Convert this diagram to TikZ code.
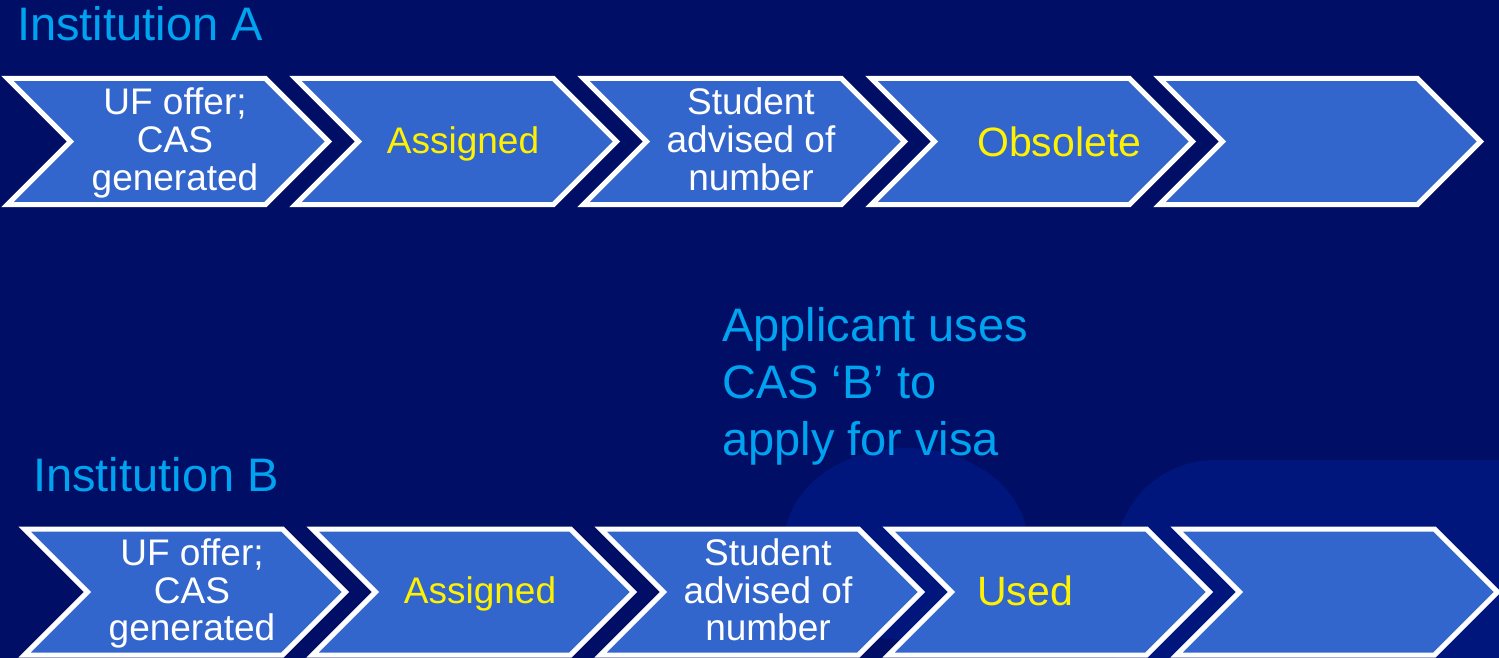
\documentclass[tikz,border=0pt]{standalone}
\usepackage{fontspec}
\setmainfont{Liberation Sans}
\usetikzlibrary{shapes.symbols}
\definecolor{navy}{RGB}{0,14,102}
\definecolor{navylight}{RGB}{0,22,125}
\definecolor{chevblue}{RGB}{51,102,204}
\definecolor{headblue}{RGB}{0,163,240}
\begin{document}
\begin{tikzpicture}[x=1bp,y=-1bp,
		chevron/.style={signal, signal from=west, signal to=east,
			signal pointer angle=90, draw=white, line width=5bp, fill=chevblue,
			minimum width=321bp, minimum height=126bp, inner sep=0pt, outer sep=0pt},
		chevtext/.style={text=white, inner sep=0pt, align=center, anchor=base,
			font=\fontsize{37bp}{37.5bp}\selectfont},
		heading/.style={text=headblue, inner sep=0pt, align=left,
			font=\fontsize{47bp}{57bp}\selectfont},
		status/.style={text=yellow, inner sep=0pt, anchor=west,
			font=\fontsize{41bp}{41bp}\selectfont}]
		\useasboundingbox (0,0) rectangle (1499,658);
		\clip (0,0) rectangle (1499,658);
		\fill[navy] (0,0) rectangle (1499,658);
		% faint shapes of the slide background
		\fill[navylight] (906,544) ellipse [x radius=122, y radius=96];
		\fill[navylight, rounded corners=100bp] (1115,460) rectangle (1600,800);

		% Institution A
		\node[heading, anchor=base west] (insta) at (17,41) {Institution A};
		\node[chevron] (aoffer) at (168,141.5) {};
		\node[chevron] (aassign) at (456,141.5) {};
		\node[chevron] (aadvise) at (744,141.5) {};
		\node[chevron] (aobs) at (1032,141.5) {};
		\node[chevron] (aend) at (1320,141.5) {};
		\node[chevtext] (aoffertext) at ([shift={(7,48.5)}]aoffer.center) {UF offer;\\CAS\\generated};
		\node[chevtext, text=yellow] (aassigntext) at ([shift={(7,11.5)}]aassign.center) {Assigned};
		\node[chevtext] (aadvisetext) at ([shift={(7,48.5)}]aadvise.center) {Student\\advised of\\number};
		\node[status] (obsolete) at (977,142) {Obsolete};

		\node[heading, anchor=base west] (visa) at (722,455)
			{Applicant uses\\CAS ‘B’ to\\apply for visa};

		% Institution B
		\node[heading, anchor=base west] (instb) at (33,491) {Institution B};
		\node[chevron] (boffer) at (185,592) {};
		\node[chevron] (bassign) at (473,592) {};
		\node[chevron] (badvise) at (761,592) {};
		\node[chevron] (bused) at (1049,592) {};
		\node[chevron] (bend) at (1337,592) {};
		\node[chevtext] (boffertext) at ([shift={(7,48.5)}]boffer.center) {UF offer;\\CAS\\generated};
		\node[chevtext, text=yellow] (bassigntext) at ([shift={(7,11.5)}]bassign.center) {Assigned};
		\node[chevtext] (badvisetext) at ([shift={(7,48.5)}]badvise.center) {Student\\advised of\\number};
		\node[status] (used) at (977,591) {Used};
	\end{tikzpicture}
\end{document}
